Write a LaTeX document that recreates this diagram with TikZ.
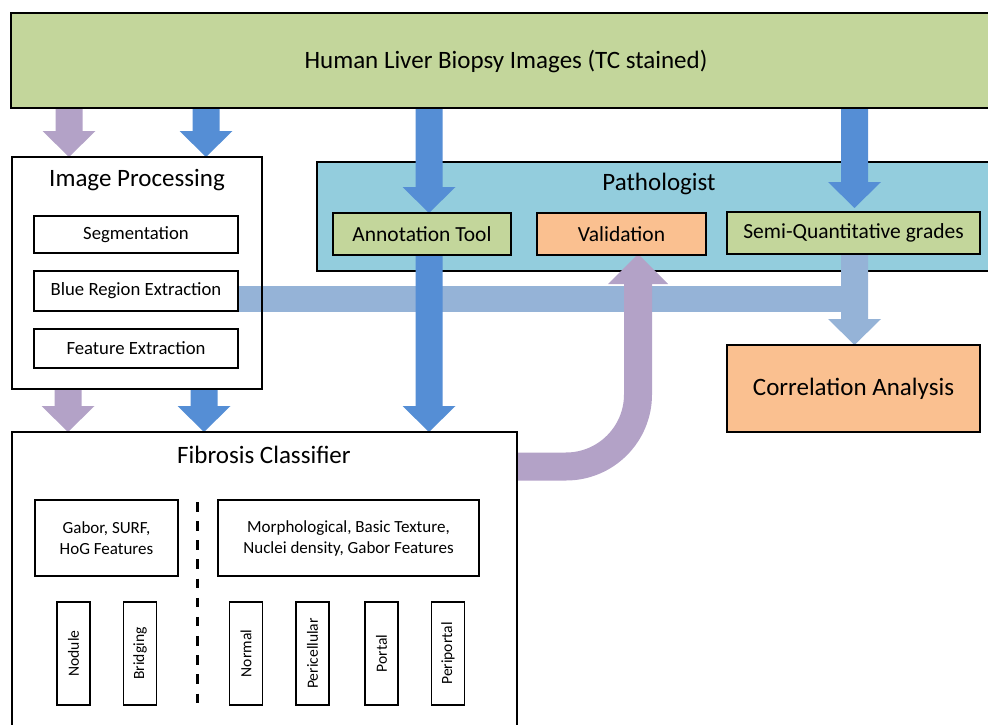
\documentclass[tikz,border=0pt]{standalone}
\usepackage{fontspec}
\setmainfont{Carlito}
\usetikzlibrary{calc}
\definecolor{cgreen}{HTML}{C3D69B}
\definecolor{cpath}{HTML}{93CDDD}
\definecolor{corange}{HTML}{FAC090}
\definecolor{cblue}{HTML}{558ED5}
\definecolor{clblue}{HTML}{95B3D7}
\definecolor{cpurple}{HTML}{B3A2C7}
\pgfdeclarelayer{back}
\pgfdeclarelayer{mid}
\pgfsetlayers{back,mid,main}
\newcommand\varrow[3]{%
  \fill[#3] let \p1=(#1), \p2=(#2), \n1={ifthenelse(\y1>\y2,1,-1)} in
  (\x1-13.5pt,\y1) -- (\x1-13.5pt,\y2+\n1*26pt) -- (\x1-26.5pt,\y2+\n1*26pt) -- (\x1,\y2)
  -- (\x1+26.5pt,\y2+\n1*26pt) -- (\x1+13.5pt,\y2+\n1*26pt) -- (\x1+13.5pt,\y1) -- cycle;}
\begin{document}
\begin{tikzpicture}[x=1pt,y=-1pt,
  bx/.style={draw=black, line width=1.2pt, inner sep=0pt, outer sep=0pt, anchor=north west, align=center, text=black},
  openbox/.style={inner sep=0pt, outer sep=0pt, anchor=north west},
  bord/.style={draw=black, line width=1.2pt},
  ttl/.style={inner sep=0pt, text=black, font=\fontsize{25}{30}\selectfont},
  fmid/.style={font=\fontsize{21.5}{26}\selectfont},
  fsmall/.style={font=\fontsize{18.7}{22}\selectfont},
  ffc/.style={font=\fontsize{17}{21}\selectfont},
  vbox/.style={draw=black, line width=1.2pt, inner sep=0pt, outer sep=0pt, rotate=90, minimum width=103pt, minimum height=33pt, font=\fontsize{15.6}{18}\selectfont},
  dashsep/.style={line width=3pt, dash pattern=on 9.5pt off 9.65pt}]
\useasboundingbox (0,0) rectangle (988,725);

% ---------- large containers ----------
\begin{pgfonlayer}{back}
  \node[openbox, fill=cgreen, minimum width=977pt, minimum height=95pt] (top) at (11,13) {};
  \node[openbox, fill=cpath, minimum width=671pt, minimum height=109pt] (path) at (317,162) {};
  \draw[bord] (path.north east) -- (path.north west) -- (path.south west) -- (path.south east);
  \node[openbox, fill=white, minimum width=250pt, minimum height=232pt] (ip) at (12,157) {};
  \node[openbox, fill=white, minimum width=505pt, minimum height=293pt] (fc) at (12,432) {};
\end{pgfonlayer}
\draw[bord] (top.north east) -- (top.north west) -- (top.south west) -- (top.south east);
\draw[bord] (ip.north west) rectangle (ip.south east);
\draw[bord] (fc.south west) -- (fc.north west) -- (fc.north east) -- (fc.south east);

% ---------- titles ----------
\node[ttl] (toptxt) at (506,62) {Human Liver Biopsy Images (TC stained)};
\node[ttl] (pathtxt) at (659,184) {Pathologist};
\node[ttl] (iptxt) at (137,180) {Image Processing};
\node[ttl] (fctxt) at (264,455) {Fibrosis Classifier};

% ---------- inner boxes ----------
\node[bx, fsmall, minimum width=204pt, minimum height=37pt] (seg) at (34,216) {Segmentation};
\node[bx, fsmall, minimum width=204pt, minimum height=40pt] (bre) at (34,271) {Blue Region Extraction};
\node[bx, fsmall, minimum width=204pt, minimum height=39pt] (fe) at (34,329) {Feature Extraction};

\node[bx, fmid, fill=cgreen, minimum width=178pt, minimum height=42pt] (ann) at (333,213) {Annotation Tool};
\node[bx, fmid, fill=corange, minimum width=169pt, minimum height=42pt] (val) at (537,213) {Validation};
\node[bx, fmid, fill=cgreen, minimum width=253pt, minimum height=42pt] (sq) at (727,212) {Semi-Quantitative grades};
\node[bx, fill=corange, minimum width=253pt, minimum height=87pt, font=\fontsize{25}{30}\selectfont] (corr) at (727,345) {Correlation Analysis};

\node[bx, ffc, minimum width=143pt, minimum height=76pt] (gab) at (35,500) {Gabor, SURF,\\HoG Features};
\node[bx, ffc, minimum width=261pt, minimum height=76pt] (mor) at (218,500) {Morphological, Basic Texture,\\Nuclei density, Gabor Features};

\node[vbox] (nod) at (73.5,653.5) {Nodule};
\node[vbox] (bri) at (140,653.5) {Bridging};
\node[vbox] (nor) at (246,653.5) {Normal};
\node[vbox] (per) at (312.5,653.5) {Pericellular};
\node[vbox] (por) at (381.5,653.5) {Portal};
\node[vbox] (pp) at (448,653.5) {Periportal};

\coordinate (dtop) at ($(fc.north west)+(185,70)$);
\coordinate (dbot) at ($(fc.north west)+(185,272)$);
\draw[dashsep] (dtop) -- (dbot);

% ---------- connectors ----------
\begin{pgfonlayer}{mid}
  % light blue: Blue Region Extraction + Semi-Quantitative -> Correlation
  \fill[clblue] ($(bre.east)+(0,-5)$) rectangle ($(sq.south)+(13.5,58)$);
  \varrow{$(sq.south)+(1,0)$}{$(corr.north)+(1,0)$}{clblue}
  % purple: Fibrosis Classifier -> Validation
  \coordinate (pstart) at ($(fc.north east)+(0,34.5)$);
  \coordinate (ptip) at ($(val.south)+(16.5,-1)$);
  \coordinate (pbase) at ($(ptip)+(0,30)$);
  \draw[cpurple, line width=28pt, rounded corners=72pt] (pstart) -| (pbase);
  \fill[cpurple] (ptip) -- ($(pbase)+(30,0)$) -- ($(pbase)+(-30,0)$) -- cycle;
  % top -> image processing
  \varrow{$(top.south west)+(58,0)$}{$(ip.north west)+(57,0)$}{cpurple}
  \varrow{$(top.south west)+(195,0)$}{$(ip.north west)+(194,0)$}{cblue}
  % image processing -> fibrosis classifier
  \varrow{$(ip.south west)+(56,0)$}{$(fc.north west)+(56,0)$}{cpurple}
  \varrow{$(ip.south west)+(192,0)$}{$(fc.north west)+(192,0)$}{cblue}
  % top -> annotation tool -> fibrosis classifier
  \varrow{$(top.south west)+(418,0)$}{$(ann.north west)+(96,0)$}{cblue}
  \varrow{$(ann.south west)+(96,0)$}{$(fc.north west)+(417,0)$}{cblue}
  % top -> semi-quantitative grades
  \varrow{$(top.south west)+(843.5,0)$}{$(sq.north)+(1,-4)$}{cblue}
\end{pgfonlayer}
\end{tikzpicture}
\end{document}
